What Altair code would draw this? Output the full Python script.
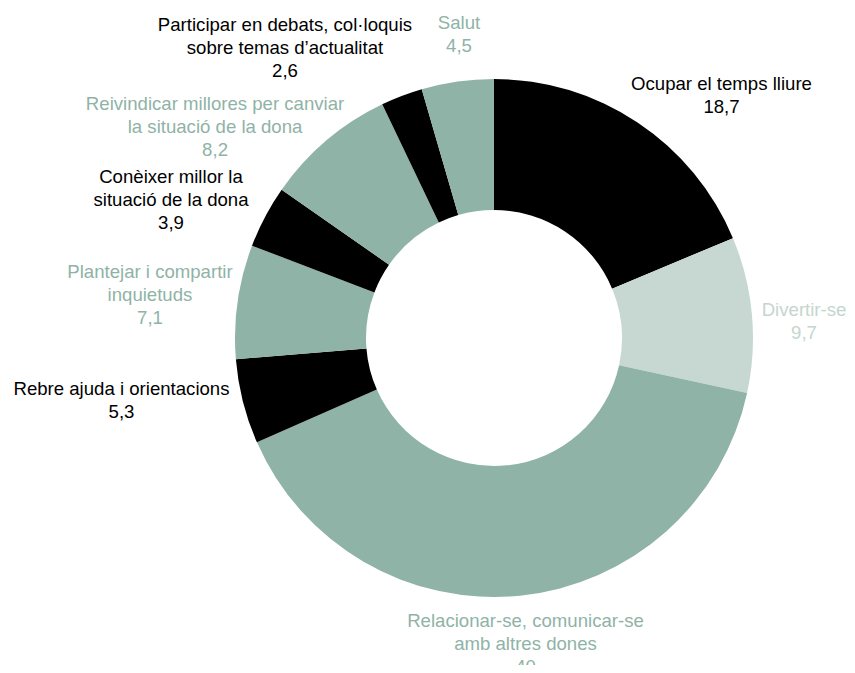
import math
import altair as alt
import pandas as pd

# ---- data ----
categories = [
    "Ocupar el temps lliure",
    "Divertir-se",
    "Relacionar-se, comunicar-se\namb altres dones",
    "Rebre ajuda i orientacions",
    "Plantejar i compartir\ninquietuds",
    "Conèixer millor la\nsituació de la dona",
    "Reivindicar millores per canviar\nla situació de la dona",
    "Participar en debats, col·loquis\nsobre temas d\u2019actualitat",
    "Salut",
]
values = [18.7, 9.7, 40, 5.3, 7.1, 3.9, 8.2, 2.6, 4.5]

# ---- styles / layout ----
BLACK, GREEN, LIGHT = "#000000", "#8fb3a6", "#c6d8d1"
slice_colors = [BLACK, LIGHT, GREEN, BLACK, GREEN, BLACK, GREEN, BLACK, GREEN]
label_colors = [BLACK, "#c4d6cf", GREEN, BLACK, GREEN, BLACK, GREEN, BLACK, GREEN]
# placement of each label's first line: angle (deg, clockwise from north)
# and distance from the donut centre
label_angle = [41.85, 84.84, 173.65, 262.2, 280.86, 296.49, 309.99, 326.27, 353.66]
label_radius = [341.0, 311.3, 284.7, 376.0, 350.3, 360.9, 364.1, 376.4, 316.9]

W, H = 839, 657
CX, CY = 486, 330
R_OUT, R_IN = 259, 128
FONT = "Liberation Sans"


def fmt(v):
    return str(int(v)) if float(v).is_integer() else f"{v:.1f}".replace(".", ",")


df = pd.DataFrame({
    "idx": range(len(values)),
    "category": categories,
    "value": values,
    "color": slice_colors,
    "lcolor": label_colors,
    "label": [f"{c}\n{fmt(v)}" for c, v in zip(categories, values)],
    "lx": [CX + r * math.sin(math.radians(a)) for a, r in zip(label_angle, label_radius)],
    "ly": [CY - r * math.cos(math.radians(a)) for a, r in zip(label_angle, label_radius)],
})

base = alt.Chart(df)

arcs = base.mark_arc(outerRadius=R_OUT, innerRadius=R_IN, stroke=None).encode(
    theta=alt.Theta("value:Q", stack=True),
    order=alt.Order("idx:O"),
    color=alt.Color("color:N", scale=None),
    x=alt.value(CX),
    y=alt.value(CY),
)

labels = base.mark_text(
    font=FONT, fontSize=18.6, lineBreak="\n", lineHeight=23,
    align="center", baseline="middle",
).encode(
    x=alt.X("lx:Q", scale=None),
    y=alt.Y("ly:Q", scale=None),
    text="label:N",
    color=alt.Color("lcolor:N", scale=None),
)

chart = (
    alt.layer(arcs, labels)
    .properties(width=W, height=H, autosize=alt.AutoSizeParams(type="none"), padding=0)
    .configure_view(stroke=None)
)

chart.save("out.html", embed_options={"renderer": "svg", "actions": False})
